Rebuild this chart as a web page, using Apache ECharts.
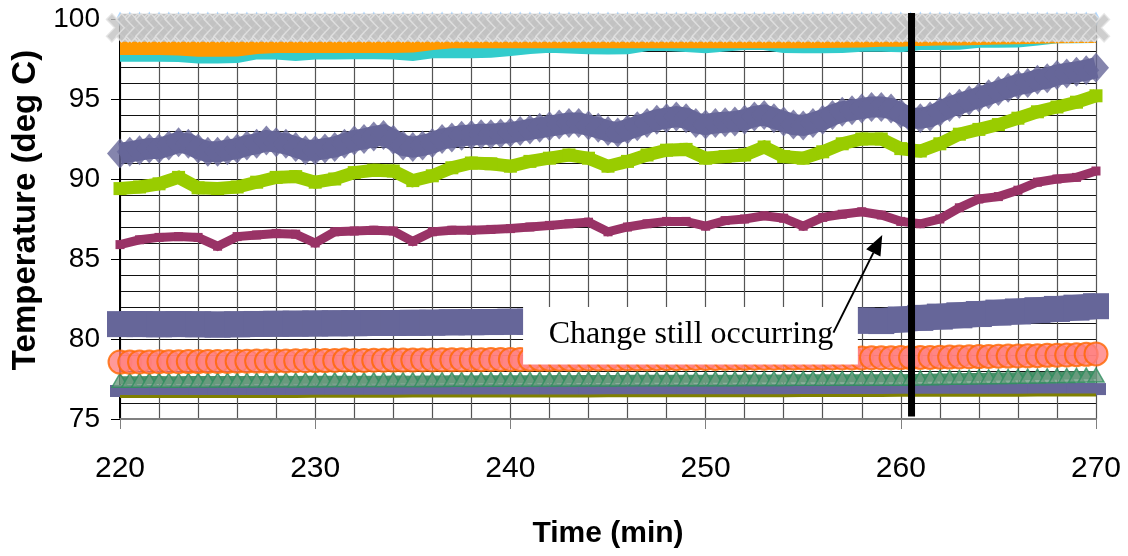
<!DOCTYPE html>
<html><head><meta charset="utf-8">
<script src="https://cdn.jsdelivr.net/npm/echarts@6/dist/echarts.min.js"></script>
<style>html,body{margin:0;padding:0;background:#fff}#c{width:1128px;height:556px}</style>
</head><body><div id="c"></div>
<script>
// ---------- data ----------
const T1 = [220,221,222,223,224,225,226,227,228,229,230,231,232,233,234,235,236,237,238,239,
  240,241,242,243,244,245,246,247,248,249,250,251,252,253,254,255,256,257,258,259,
  260,261,262,263,264,265,266,267,268,269,270];
const T05 = [220,220.5,221,221.5,222,222.5,223,223.5,224,224.5,
  225,225.5,226,226.5,227,227.5,228,228.5,229,229.5,
  230,230.5,231,231.5,232,232.5,233,233.5,234,234.5,
  235,235.5,236,236.5,237,237.5,238,238.5,239,239.5,
  240,240.5,241,241.5,242,242.5,243,243.5,244,244.5,
  245,245.5,246,246.5,247,247.5,248,248.5,249,249.5,
  250,250.5,251,251.5,252,252.5,253,253.5,254,254.5,
  255,255.5,256,256.5,257,257.5,258,258.5,259,259.5,
  260,260.5,261,261.5,262,262.5,263,263.5,264,264.5,
  265,265.5,266,266.5,267,267.5,268,268.5,269,269.5,270];
const xTicks = [220,230,240,250,260,270];
const yTicks = [75,80,85,90,95,100];

const lightBlue = [100,100,100,100,100,100,100,100,100,100, 100,100,100,100,100,100,100,100,100,100,
  100,100,100,100,100,100,100,100,100,100, 100,100,100,100,100,100,100,100,100,100,
  100,100,100,100,100,100,100,100,100,100, 100,100,100,100,100,100,100,100,100,100,
  100,100,100,100,100,100,100,100,100,100, 100,100,100,100,100,100,100,100,100,100,
  100,100,100,100,100,100,100,100,100,100, 100,100,100,100,100,100,100,100,100,100, 100];
const grayX = [99.45,99.45,99.45,99.45,99.45,99.45,99.45,99.45,99.45,99.45, 99.45,99.45,99.45,99.45,99.45,99.45,99.45,99.45,99.45,99.45,
  99.45,99.45,99.45,99.45,99.45,99.45,99.45,99.45,99.45,99.45, 99.45,99.45,99.45,99.45,99.45,99.45,99.45,99.45,99.45,99.45,
  99.45,99.45,99.45,99.45,99.45,99.45,99.45,99.45,99.45,99.45, 99.45,99.45,99.45,99.45,99.45,99.45,99.45,99.45,99.45,99.45,
  99.45,99.45,99.45,99.45,99.45,99.45,99.45,99.45,99.45,99.45, 99.45,99.45,99.45,99.45,99.45,99.45,99.45,99.45,99.45,99.45,
  99.45,99.45,99.45,99.45,99.45,99.45,99.45,99.45,99.45,99.45, 99.45,99.45,99.45,99.45,99.45,99.45,99.45,99.45,99.45,99.45, 99.45];
const orange = [98.25,98.25,98.25,98.22,98.14,98.14,98.15,98.31,98.37,98.37,
  98.37,98.38,98.38,98.38,98.38,98.4,98.56,98.67,98.67,98.67,
  98.67,98.67,98.67,98.67,98.67,98.67,98.67,98.67,98.67,98.67,
  98.67,98.67,98.67,98.67,98.67,98.67,98.68,98.7,98.72,98.77,
  98.77,98.82,98.84,98.85,98.88,98.9,98.92,98.96,98.98,99.0,99.0];
const cyan = [97.71,97.71,97.71,97.68,97.6,97.6,97.62,97.85,97.85,97.75,
  97.85,97.85,97.86,97.86,97.85,97.75,97.92,97.92,97.92,97.95,
  98.06,98.19,98.27,98.22,98.17,98.15,98.17,98.37,98.37,98.31,
  98.23,98.34,98.44,98.44,98.25,98.23,98.23,98.25,98.33,98.33,
  98.3,98.44,98.44,98.45,98.58,98.58,98.6,98.72,98.86,98.86,98.88];
const purpleDiamond = [91.6,91.7,91.8,91.9,91.9,92.1,92.3,92.2,91.9,91.7,
  91.7,91.8,91.9,92.1,92.2,92.4,92.3,92.2,92.0,91.8,
  91.8,91.9,92.0,92.2,92.4,92.5,92.65,92.75,92.45,92.1,
  92.0,92.1,92.25,92.5,92.6,92.7,92.75,92.8,92.8,92.85,
  92.9,93.0,93.1,93.2,93.3,93.4,93.5,93.5,93.35,93.2,
  93.0,92.9,93.1,93.3,93.5,93.7,93.8,93.9,93.8,93.5,
  93.4,93.5,93.55,93.6,93.7,93.9,94.0,93.8,93.6,93.4,
  93.35,93.5,93.7,94.0,94.2,94.3,94.4,94.5,94.5,94.4,
  94.1,93.8,93.8,93.9,94.2,94.5,94.7,94.9,95.1,95.3,
  95.5,95.7,95.9,96.0,96.2,96.3,96.5,96.6,96.7,96.8,96.95];
const greenSq = [89.4,89.5,89.7,90.1,89.45,89.4,89.5,89.8,90.1,90.15,
  89.8,90.0,90.4,90.55,90.5,89.9,90.2,90.7,91.0,90.95,
  90.8,91.1,91.3,91.5,91.3,90.8,91.1,91.5,91.8,91.85,
  91.3,91.4,91.5,92.0,91.4,91.3,91.7,92.2,92.5,92.5,
  91.9,91.75,92.2,92.8,93.1,93.4,93.8,94.2,94.5,94.8,95.2];
const maroon = [85.9,86.2,86.35,86.4,86.35,85.8,86.4,86.5,86.6,86.55,
  86.0,86.7,86.75,86.8,86.75,86.1,86.7,86.8,86.8,86.85,
  86.9,87.0,87.1,87.2,87.3,86.7,87.0,87.2,87.35,87.35,
  87.05,87.4,87.5,87.7,87.55,87.05,87.6,87.8,87.95,87.75,
  87.35,87.2,87.5,88.2,88.75,88.9,89.3,89.8,90.0,90.1,90.5];
const purple81 = [80.93,80.93,80.92,80.93,80.92,80.9,80.92,80.94,80.95,80.96,
  80.97,80.98,80.99,81.0,81.0,81.01,81.02,81.04,81.05,81.06,
  81.08,81.08,81.08,81.09,81.09,81.1,81.1,81.1,81.1,81.1,
  81.1,81.1,81.11,81.11,81.12,81.12,81.12,81.13,81.15,81.12,
  81.22,81.32,81.4,81.48,81.56,81.65,81.72,81.8,81.88,81.96,82.05];
const circles = [78.56,78.56,78.57,78.57,78.58,78.58,78.58,78.59,78.59,78.6,
  78.6,78.6,78.61,78.61,78.62,78.62,78.63,78.63,78.64,78.64,
  78.65,78.65,78.66,78.68,78.66,78.66,78.67,78.67,78.68,78.68,
  78.68,78.69,78.69,78.7,78.7,78.7,78.71,78.71,78.72,78.72,
  78.72,78.72,78.73,78.73,78.73,78.74,78.74,78.74,78.75,78.75,
  78.75,78.75,78.76,78.76,78.76,78.77,78.77,78.77,78.78,78.78,
  78.78,78.78,78.79,78.79,78.79,78.8,78.8,78.8,78.8,78.81,
  78.81,78.81,78.81,78.82,78.82,78.82,78.82,78.83,78.83,78.83,
  78.84,78.84,78.85,78.85,78.86,78.87,78.88,78.89,78.9,78.91,
  78.92,78.93,78.94,78.95,78.96,78.98,78.99,79.0,79.02,79.04,79.07];
const greenTri = [77.42,77.42,77.42,77.43,77.43,77.42,77.42,77.43,77.43,77.43,
  77.44,77.44,77.43,77.44,77.44,77.44,77.45,77.45,77.44,77.45,
  77.45,77.45,77.46,77.46,77.45,77.46,77.46,77.46,77.47,77.47,
  77.46,77.47,77.47,77.47,77.48,77.48,77.47,77.48,77.48,77.48,
  77.48,77.49,77.49,77.49,77.49,77.5,77.49,77.5,77.5,77.5,
  77.5,77.5,77.51,77.51,77.51,77.51,77.51,77.52,77.52,77.52,
  77.52,77.52,77.52,77.52,77.53,77.53,77.53,77.53,77.53,77.54,
  77.54,77.54,77.54,77.54,77.55,77.55,77.55,77.55,77.55,77.55,
  77.55,77.56,77.57,77.58,77.59,77.6,77.61,77.62,77.63,77.64,
  77.65,77.66,77.67,77.68,77.69,77.7,77.71,77.72,77.73,77.74,77.75];
const purpleBottom = [76.75,76.75,76.75,76.75,76.76,76.76,76.76,76.76,76.76,76.77,
  76.77,76.77,76.77,76.77,76.78,76.78,76.78,76.78,76.78,76.79,
  76.79,76.79,76.79,76.79,76.8,76.8,76.8,76.8,76.8,76.8,
  76.8,76.8,76.81,76.81,76.81,76.81,76.81,76.82,76.82,76.82,
  76.82,76.83,76.83,76.84,76.84,76.85,76.85,76.86,76.86,76.87,76.87];
const olive = [76.4,76.4,76.4,76.4,76.4,76.41,76.41,76.41,76.41,76.41,
  76.42,76.42,76.42,76.42,76.42,76.43,76.43,76.43,76.43,76.43,
  76.44,76.44,76.44,76.44,76.44,76.45,76.45,76.45,76.45,76.45,
  76.46,76.46,76.46,76.46,76.46,76.47,76.47,76.47,76.47,76.47,
  76.48,76.48,76.48,76.48,76.49,76.49,76.49,76.5,76.5,76.5,76.5];
const changeTime = [260.55, 260.55];
const changeTemp = [75.15, 100.37];

// annotation (data coordinates)
const annoText = 'Change still occurring';
const annoBox = [240.65, 82.0, 257.8, 78.4];
const annoTextAt = [249.25, 80.3];
const arrowFrom = [256.55, 80.4];
const arrowTo = [259.05, 86.5];

// ---------- chart ----------
const pairs = (t, v) => t.map((x, i) => [x, v[i]]);
const X_PATH = 'path://M0,2 L2,0 L5,3 L8,0 L10,2 L7,5 L10,8 L8,10 L5,7 L2,10 L0,8 L3,5 Z';
const SANS = "'Liberation Sans', Arial, sans-serif";

function lineSeries(name, data, color, width, extra) {
  return Object.assign({
    name, type: 'line', data, clip: false, silent: true, showSymbol: false,
    showAllSymbol: true,
    lineStyle: { color, width, cap: 'butt', join: 'miter' },
    itemStyle: { color },
    emphasis: { disabled: true }
  }, extra || {});
}
function markSeries(name, data, symbol, size, itemStyle, z) {
  return {
    name, type: 'scatter', data, clip: false, silent: true, z: z,
    symbol, symbolSize: size, itemStyle, emphasis: { disabled: true }
  };
}

const chart = echarts.init(document.getElementById('c'));
chart.setOption({
  animation: false,
  backgroundColor: '#fff',
  textStyle: { fontFamily: SANS },
  grid: { left: 120, right: 32, top: 19, bottom: 137 },
  xAxis: {
    type: 'value', min: 220, max: 270, interval: 10,
    name: 'Time (min)', nameLocation: 'middle', nameGap: 100,
    nameTextStyle: { fontSize: 30, fontWeight: 'bold', fontFamily: SANS, color: '#000' },
    axisLine: { show: true, lineStyle: { color: '#808080', width: 2 } },
    axisTick: { show: true, length: 10, lineStyle: { color: '#808080', width: 1 } },
    axisLabel: { fontSize: 30, fontFamily: SANS, color: '#000', margin: 35,
      formatter: v => xTicks.includes(v) ? String(v) : '' },
    splitLine: { show: true, lineStyle: { color: '#555', width: 1.2 } },
    minorTick: { show: false, splitNumber: 5 },
    minorSplitLine: { show: true, lineStyle: { color: '#555', width: 1.2 } }
  },
  yAxis: {
    type: 'value', min: 75, max: 100, interval: 5,
    name: 'Temperature (deg C)', nameLocation: 'middle', nameGap: 78,
    nameTextStyle: { fontSize: 33, fontWeight: 'bold', fontFamily: SANS, color: '#000', padding: [0, 0, 0, 18] },
    axisLine: { show: true, lineStyle: { color: '#000', width: 2 } },
    axisTick: { show: true, length: 9, lineStyle: { color: '#000', width: 1 } },
    axisLabel: { fontSize: 28, fontFamily: SANS, color: '#000', margin: 20,
      formatter: v => yTicks.includes(v) ? String(v) : '' },
    splitLine: { show: true, lineStyle: { color: '#111', width: 1 } },
    minorTick: { show: false, splitNumber: 5 },
    minorSplitLine: { show: true, lineStyle: { color: '#111', width: 1 } }
  },
  series: [
    markSeries('s100', pairs(T05, lightBlue), 'diamond', [8, 15], { color: '#99ccff' }, 2),
    lineSeries('cyan', pairs(T1, cyan), '#33cccc', 12),
    lineSeries('orange', pairs(T1, orange), '#ff9900', 16),
    lineSeries('gray', pairs(T05, grayX), '#c0c0c0', 28, { z: 3 }),
    markSeries('grayX', pairs(T05, grayX), X_PATH, [27, 28],
      { color: '#c2c2c2', borderColor: '#e4e4e4', borderWidth: 1.5 }, 4),
    lineSeries('diamondLine', pairs(T05, purpleDiamond), '#666699', 21),
    markSeries('diamond', pairs(T05, purpleDiamond), 'diamond', [26, 30], { color: '#666699' }, 3),
    lineSeries('green', pairs(T1, greenSq), '#99cc00', 13, {
      showSymbol: true, symbol: 'rect', symbolSize: 13 }),
    lineSeries('maroon', pairs(T1, maroon), '#993366', 9, {
      showSymbol: true, symbol: 'rect', symbolSize: 9 }),
    lineSeries('p81', pairs(T1, purple81), '#666699', 26, {
      showSymbol: true, symbol: 'rect', symbolSize: 26 }),
    lineSeries('pBottom', pairs(T1, purpleBottom), '#666699', 12, {
      showSymbol: true, symbol: 'rect', symbolSize: [20, 12] }),
    lineSeries('greenTriLine', pairs(T05, greenTri), '#4f8f6a', 8),
    markSeries('greenTri', pairs(T05, greenTri), 'triangle', [16, 14],
      { color: '#6f9c82', borderColor: '#2f8f5f', borderWidth: 1.5 }, 3),
    markSeries('circles', pairs(T05, circles), 'circle', 23,
      { color: '#ff8080', borderColor: '#ff6600', borderWidth: 2 }, 4),
    lineSeries('olive', pairs(T1, olive), '#808000', 3, { z: 5 }),
    lineSeries('change', pairs(changeTime, changeTemp), '#000', 7, { z: 10 })
  ]
});

// annotation drawn from data coordinates
const px = p => chart.convertToPixel({ gridIndex: 0 }, p);
const b0 = px([annoBox[0], annoBox[1]]), b1 = px([annoBox[2], annoBox[3]]);
const tp = px(annoTextAt);
const a0 = px(arrowFrom), a1 = px(arrowTo);
const dx = a1[0] - a0[0], dy = a1[1] - a0[1], len = Math.hypot(dx, dy);
const ux = dx / len, uy = dy / len, nx = -uy, ny = ux;
const HL = 20, HW = 8;
const bx = a1[0] - ux * HL, by = a1[1] - uy * HL;
chart.setOption({
  graphic: [
    { type: 'rect', z: 20, silent: true,
      shape: { x: b0[0], y: b0[1], width: b1[0] - b0[0], height: b1[1] - b0[1] },
      style: { fill: '#fff', stroke: null } },
    { type: 'text', z: 21, silent: true, x: tp[0], y: tp[1],
      style: { text: annoText, fill: '#000', font: "32px 'Liberation Serif', 'Times New Roman', serif",
        align: 'center', verticalAlign: 'middle' } },
    { type: 'line', z: 21, silent: true,
      shape: { x1: a0[0], y1: a0[1], x2: bx, y2: by },
      style: { stroke: '#000', lineWidth: 2 } },
    { type: 'polygon', z: 21, silent: true,
      shape: { points: [[a1[0], a1[1]], [bx + nx * HW, by + ny * HW], [bx - nx * HW, by - ny * HW]] },
      style: { fill: '#000' } }
  ]
});
</script>
</body></html>
